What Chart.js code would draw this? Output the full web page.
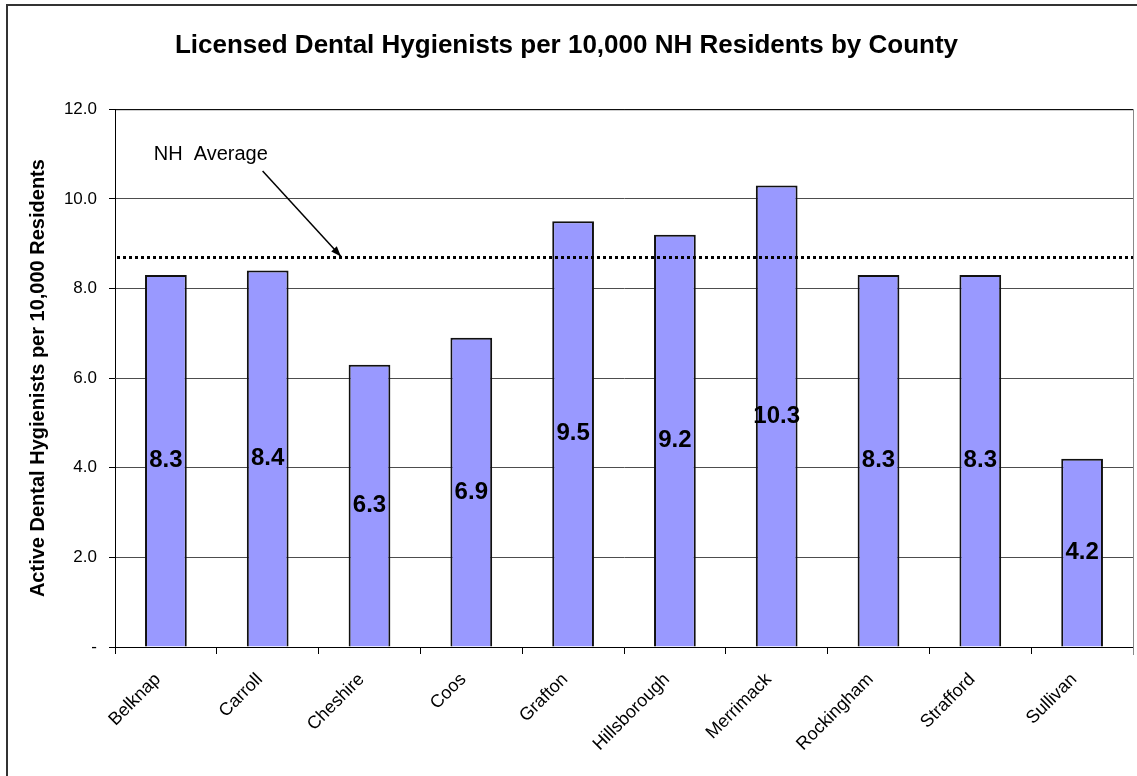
<!DOCTYPE html>
<html>
<head>
<meta charset="utf-8">
<title>Licensed Dental Hygienists per 10,000 NH Residents by County</title>
<script src="https://cdn.jsdelivr.net/npm/chart.js@4/dist/chart.umd.min.js"></script>
<style>
  html, body { margin: 0; padding: 0; background: #fff; }
  canvas { display: block; }
</style>
</head>
<body>
<canvas id="hygienists" width="1137" height="776"></canvas>
<script>
const counties = ["Belknap", "Carroll", "Cheshire", "Coos", "Grafton",
                  "Hillsborough", "Merrimack", "Rockingham", "Strafford", "Sullivan"];
const hygienistsPer10k = [8.3, 8.4, 6.3, 6.9, 9.5, 9.2, 10.3, 8.3, 8.3, 4.2];
const nhAverage = 8.7;
const yTicks = [0, 2, 4, 6, 8, 10, 12];

const FONT = "'Liberation Sans', Arial, sans-serif";

// white page with the grey frame round it
const framePlugin = {
  id: 'frame',
  beforeDraw(chart) {
    const ctx = chart.ctx;
    ctx.save();
    ctx.fillStyle = '#fff';
    ctx.fillRect(0, 0, chart.width, chart.height);
    ctx.strokeStyle = '#333';
    ctx.lineWidth = 2;
    ctx.strokeRect(7, 5, chart.width + 20, chart.height + 20);
    ctx.restore();
  },
  beforeDatasetsDraw(chart) {
    const { ctx, chartArea: a } = chart;
    ctx.save();
    ctx.lineWidth = 1;
    ctx.strokeStyle = '#000';
    ctx.beginPath();
    ctx.moveTo(a.left, a.top + 0.5);
    ctx.lineTo(a.right, a.top + 0.5);
    ctx.stroke();
    ctx.strokeStyle = '#888';
    ctx.beginPath();
    ctx.moveTo(a.right + 0.5, a.top);
    ctx.lineTo(a.right + 0.5, a.bottom + 8);
    ctx.stroke();
    ctx.restore();
  }
};

// dotted state average line plus its callout
const averagePlugin = {
  id: 'average',
  afterDatasetsDraw(chart) {
    const { ctx, chartArea: a, scales: { x, y } } = chart;
    const yAvg = Math.round(y.getPixelForValue(nhAverage)) + 0.5;
    ctx.save();
    ctx.strokeStyle = '#000';
    ctx.lineWidth = 3;
    ctx.setLineDash([3, 3]);
    ctx.beginPath();
    ctx.moveTo(a.left + 2, yAvg);
    ctx.lineTo(a.right, yAvg);
    ctx.stroke();
    ctx.setLineDash([]);

    ctx.font = '20px ' + FONT;
    ctx.fillStyle = '#000';
    ctx.textAlign = 'left';
    ctx.textBaseline = 'middle';
    ctx.fillText('NH  Average', x.getPixelForValue(-0.12), y.getPixelForValue(10.98));

    const x0 = x.getPixelForValue(0.95), y0 = y.getPixelForValue(10.62);
    const x1 = x.getPixelForValue(1.72), y1 = yAvg - 1;
    ctx.lineWidth = 1.5;
    ctx.beginPath();
    ctx.moveTo(x0, y0);
    ctx.lineTo(x1, y1);
    ctx.stroke();
    const ang = Math.atan2(y1 - y0, x1 - x0);
    ctx.beginPath();
    ctx.moveTo(x1, y1);
    ctx.lineTo(x1 - 11 * Math.cos(ang - 0.35), y1 - 11 * Math.sin(ang - 0.35));
    ctx.lineTo(x1 - 11 * Math.cos(ang + 0.35), y1 - 11 * Math.sin(ang + 0.35));
    ctx.closePath();
    ctx.fill();
    ctx.restore();
  }
};

// value printed halfway up each bar
const barLabelPlugin = {
  id: 'barLabels',
  afterDatasetsDraw(chart) {
    const ctx = chart.ctx;
    const meta = chart.getDatasetMeta(0);
    ctx.save();
    ctx.font = 'bold 24px ' + FONT;
    ctx.fillStyle = '#000';
    ctx.textAlign = 'center';
    ctx.textBaseline = 'middle';
    meta.data.forEach((bar, i) => {
      ctx.fillText(hygienistsPer10k[i].toFixed(1), bar.x, (bar.y + bar.base) / 2);
    });
    ctx.restore();
  }
};

new Chart(document.getElementById('hygienists'), {
  type: 'bar',
  data: {
    labels: counties,
    datasets: [{
      data: hygienistsPer10k,
      backgroundColor: '#9999ff',
      borderColor: '#111',
      borderWidth: 2,
      barPercentage: 0.41,
      categoryPercentage: 1
    }]
  },
  options: {
    responsive: false,
    animation: false,
    layout: { padding: { left: 0, right: 4, top: 0, bottom: 0 } },
    plugins: {
      legend: { display: false },
      tooltip: { enabled: false },
      title: {
        display: true,
        text: 'Licensed Dental Hygienists per 10,000 NH Residents by County',
        color: '#000',
        font: { family: FONT, size: 26, weight: 'bold' },
        padding: { top: 30, bottom: 48 }
      }
    },
    scales: {
      x: {
        afterFit(s) { s.height = 129; },
        grid: {
          display: true,
          drawOnChartArea: false,
          offset: true,
          tickLength: 7,
          color: '#000',
          tickColor: '#000'
        },
        border: { display: true, color: '#000', width: 1 },
        ticks: {
          color: '#000',
          font: { family: FONT, size: 18 },
          minRotation: 45,
          maxRotation: 45,
          padding: 15,
          labelOffset: -8
        }
      },
      y: {
        min: 0,
        max: 12,
        afterFit(s) { s.width = 115; },
        afterBuildTicks(s) { s.ticks = yTicks.map(v => ({ value: v })); },
        grid: {
          color: '#4d4d4d',
          lineWidth: 1,
          tickLength: 6,
          tickColor: '#000'
        },
        border: { display: true, color: '#000', width: 1 },
        ticks: {
          color: '#000',
          font: { family: FONT, size: 17 },
          padding: 12,
          callback: v => v === 0 ? '-' : v.toFixed(1)
        },
        title: {
          display: true,
          text: 'Active Dental Hygienists per 10,000 Residents',
          color: '#000',
          font: { family: FONT, size: 20, weight: 'bold' },
          padding: { top: 26, bottom: 0 }
        }
      }
    }
  },
  plugins: [framePlugin, averagePlugin, barLabelPlugin]
});
</script>
</body>
</html>
